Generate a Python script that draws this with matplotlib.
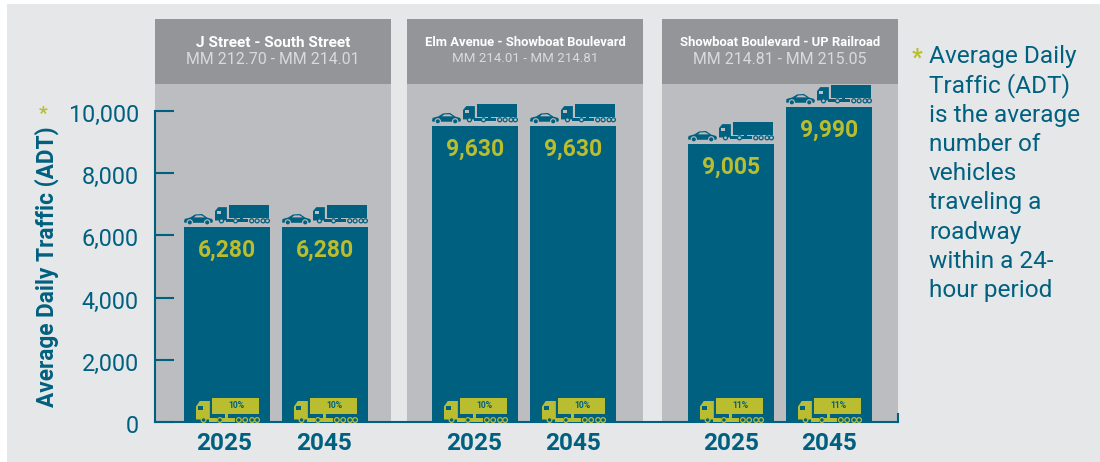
"""
Average daily traffic by road segment, 2025 and 2045
"""

import matplotlib
matplotlib.use('Agg')
import matplotlib.pyplot as plt
from matplotlib.patches import Circle, Polygon, Rectangle
from matplotlib.transforms import ScaledTranslation

plt.rcParams['font.family'] = ['Roboto', 'DejaVu Sans']

SEGMENTS = ['J Street - South Street', 'Elm Avenue - Showboat Boulevard', 'Showboat Boulevard - UP Railroad']
MILE_MARKERS = ['MM 212.70 - MM 214.01', 'MM 214.01 - MM 214.81', 'MM 214.81 - MM 215.05']
YEARS = ['2025', '2045', '2025', '2045', '2025', '2045']
ADT_LABELS = ['6,280', '6,280', '9,630', '9,630', '9,005', '9,990']
# heights as drawn in the picture, read against the axis (they differ a bit from the printed labels)
BAR_HEIGHTS = [6270, 6270, 9520, 9520, 8940, 10130]
TRUCK_SHARE = ['10%', '10%', '10%', '10%', '11%', '11%']
Y_TICKS = [0, 2000, 4000, 6000, 8000, 10000]
NOTE_LINES = ['Average Daily', 'Traffic (ADT)', 'is the average', 'number of', 'vehicles',
              'traveling a', 'roadway', 'within a 24-', 'hour period']

TEAL = '#00607f'
LIME = '#b9bd2f'
PAGE = '#e6e7e9'
PANEL = '#bcbdc0'
HEADER = '#939598'

W, H = 1100, 462
AX_LEFT, AX_RIGHT, AX_TOP, AX_BOTTOM = 155, 898, 111, 422
PANEL_LEFTS = [155, 407, 662]
PANEL_WIDTH = 236
BAR_OFFSETS = [29, 25, 26]
BAR_WIDTH = 86
BAR_STEP = 98
YEAR_NUDGE = [-3, -1, -1, 0, 0, 0]


def draw_truck(ax, x0, y0, w, h, color, hole, box_bottom=.36):
    # x0, y0 is the lower left corner of the icon, in pixels
    def px(x, y):
        return x0 + x*w, y0 - y*h
    cab = [(0, .14), (0, .66), (.06, .88), (.22, .88), (.22, .14)]
    ax.add_patch(Polygon([px(*p) for p in cab], fc=color, ec='none'))
    ax.add_patch(Rectangle(px(.25, box_bottom), .75*w, -(1 - box_bottom)*h, fc=color, ec='none'))
    ax.add_patch(Rectangle(px(.03, .52), .08*w, .15*h*-1, fc=hole, ec='none'))
    ax.add_patch(Rectangle(px(.2, .06), .14*w, .14*h*-1, fc=color, ec='none'))
    ax.add_patch(Rectangle(px(.42, .06), .2*w, .14*h*-1, fc=color, ec='none'))
    ax.add_patch(Rectangle(px(.46, .06), .05*w, (box_bottom - .06)*h*-1, fc=color, ec='none'))
    for x in [.12, .38, .68, .78, .89, .97]:
        ax.add_patch(Circle(px(x, .12), .037*w, fc=hole, ec=color, lw=0.9))


def draw_car(ax, x0, y0, w, h, color, hole):
    def px(x, y):
        return x0 + x*w, y0 - y*h
    body = [(0, .2), (.02, .5), (.22, .66), (.38, .95), (.62, 1), (.8, .64),
            (.97, .5), (1, .3), (.97, .12), (.03, .12)]
    ax.add_patch(Polygon([px(*p) for p in body], fc=color, ec='none'))
    window = [(.34, .66), (.42, .85), (.6, .87), (.72, .66)]
    ax.add_patch(Polygon([px(*p) for p in window], fc=hole, ec='none'))
    for x in [.2, .8]:
        ax.add_patch(Circle(px(x, .16), .09*w, fc=color, ec=hole, lw=0.8))


fig = plt.figure(figsize=(W/100, H/100), dpi=100, facecolor='white')

bg = fig.add_axes([0, 0, 1, 1], zorder=0)
bg.set_xlim(0, W)
bg.set_ylim(H, 0)
bg.axis('off')
bg.add_patch(Rectangle((7, 4), W - 7, H - 4, fc=PAGE, ec='none'))
for i, left in enumerate(PANEL_LEFTS):
    bg.add_patch(Rectangle((left, 84), PANEL_WIDTH, AX_BOTTOM - 84, fc=PANEL, ec='none'))
    bg.add_patch(Rectangle((left, 19), PANEL_WIDTH, 65, fc=HEADER, ec='none'))
    size = 11.1 if i == 0 else 9.4
    bg.text(left + PANEL_WIDTH/2, 43, SEGMENTS[i], color='white', fontsize=size,
            fontweight='bold', ha='center', va='center')
    bg.text(left + PANEL_WIDTH/2, 60 if i != 1 else 58, MILE_MARKERS[i], color='#d9dadc',
            fontsize=11.4 if i != 1 else 9.6, ha='center', va='center')

ax = fig.add_axes([AX_LEFT/W, 1 - AX_BOTTOM/H, (AX_RIGHT - AX_LEFT)/W, (AX_BOTTOM - AX_TOP)/H], zorder=1)
ax.patch.set_alpha(0)
lefts = [p + o + k*BAR_STEP for p, o in zip(PANEL_LEFTS, BAR_OFFSETS) for k in (0, 1)]
centers = [x + BAR_WIDTH/2 for x in lefts]
ax.bar(centers, BAR_HEIGHTS, width=BAR_WIDTH, color=TEAL, clip_on=False)
ax.set_xlim(AX_LEFT, AX_RIGHT)
ax.set_ylim(0, 10000)
ax.set_yticks(Y_TICKS, [f'{v:,}' for v in Y_TICKS])
ax.set_xticks([c + n for c, n in zip(centers, YEAR_NUDGE)], YEARS)
ax.tick_params(axis='y', direction='in', length=13.5, width=1.5, color=TEAL, labelcolor=TEAL,
               labelsize=16.8, pad=11.5)
ax.tick_params(axis='x', length=0, labelcolor=TEAL, labelsize=17.6, pad=7)
shift_down = ScaledTranslation(0, -2/100, fig.dpi_scale_trans)
for label in ax.get_yticklabels():
    label.set_transform(label.get_transform() + shift_down)
for label in ax.get_xticklabels():
    label.set_fontweight('bold')
for side in ['left', 'bottom', 'right']:
    ax.spines[side].set_color(TEAL)
    ax.spines[side].set_linewidth(1.5)
ax.spines['top'].set_visible(False)
ax.spines['right'].set_bounds(0, 260)
ax.set_ylabel('Average Daily Traffic (ADT)', color=TEAL, fontsize=16.3, fontweight='bold')
ax.yaxis.set_label_coords((59 - AX_LEFT)/(AX_RIGHT - AX_LEFT), (AX_BOTTOM - 266.5)/(AX_BOTTOM - AX_TOP))

top = fig.add_axes([0, 0, 1, 1], zorder=2)
top.set_xlim(0, W)
top.set_ylim(H, 0)
top.axis('off')
top.text(43, 114, '*', color=LIME, fontsize=14, fontweight='bold', ha='center', va='center')

for left, center, height, adt, share in zip(lefts, centers, BAR_HEIGHTS, ADT_LABELS, TRUCK_SHARE):
    # pixel row of the bar top, through the axis scale
    y_top = H - ax.transData.transform((0, height))[1]
    top.text(center, y_top + 23, adt, color=LIME, fontsize=16.5, fontweight='bold', ha='center', va='center')
    draw_car(top, left, y_top - 3, 29, 10, TEAL, PANEL)
    draw_truck(top, left + 31, y_top - 4, 54, 18, TEAL, PANEL, box_bottom=.28)
    draw_truck(top, left + 12, AX_BOTTOM + 1, 63, 25, LIME, TEAL)
    top.text(left + 52, 405, share, color=TEAL, fontsize=6.2, fontweight='bold', ha='center', va='center')

top.text(917, 58, '*', color=LIME, fontsize=17, fontweight='bold', ha='center', va='center')
for i, line in enumerate(NOTE_LINES):
    top.text(929, 56.5 + i*29.3, line, color=TEAL, fontsize=17.6, ha='left', va='center')

fig.savefig('out.png', dpi=100)
